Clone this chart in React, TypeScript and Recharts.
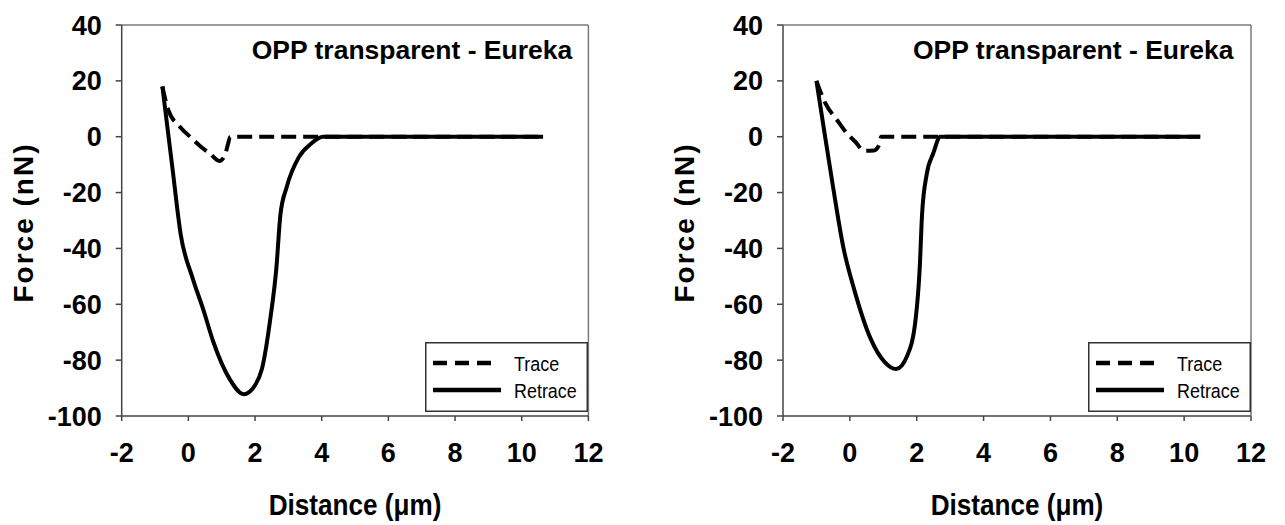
import React from 'react';
import { LineChart, Line, XAxis, YAxis, ReferenceLine, Legend, Label } from 'recharts';

const FONT = '"Liberation Sans", Arial, Helvetica, sans-serif';
const AXIS = '#444';
const FRAME = '#7a7a7a';

// Tick values
const xTicks = [-2, 0, 2, 4, 6, 8, 10, 12];
const yTicks = [-100, -80, -60, -40, -20, 0, 20, 40];

// Text
const panelTitle = 'OPP transparent - Eureka';
const xTitle = 'Distance (\u03bcm)';
const yTitle = 'Force (nN)';
const seriesNames = ['Trace', 'Retrace'];

// Left panel: distance (µm) and force (nN)
const leftTraceX = [-0.78, -0.6, -0.25, 0.05, 0.35, 0.65, 0.93, 1.1, 1.18, 1.26, 10.64];
const leftTraceF = [18, 9.5, 3.5, 0, -3.3, -6.1, -8.7, -6.5, -3, 0, 0];
const leftRetraceX = [-0.78, -0.48, -0.23, 0.13, 0.45, 0.75, 1.24, 1.66, 2.0, 2.21, 2.46, 2.64, 2.76, 2.95, 3.31, 3.68, 4.04, 10.64];
const leftRetraceF = [18, -11, -35, -50.7, -62, -73.5, -86.8, -92.2, -89, -83, -65, -47, -28, -18, -7.4, -2.5, 0, 0];

// Right panel: distance (µm) and force (nN)
const rightTraceX = [-1.0, -0.73, -0.38, -0.08, 0.17, 0.42, 0.72, 0.87, 0.94, 10.48];
const rightTraceF = [20, 11.9, 5.9, 1.1, -1.9, -5.0, -4.9, -3.1, 0, 0];
const rightRetraceX = [-1.0, -0.74, -0.5, -0.19, 0.12, 0.62, 1.05, 1.38, 1.72, 1.97, 2.09, 2.16, 2.3, 2.49, 2.71, 10.48];
const rightRetraceF = [20, 0, -18.2, -39.9, -54.3, -72.3, -80.8, -83.2, -78.3, -65.1, -47, -27.8, -13.4, -6.1, 0, 0];

const zip = (xs: number[], ys: number[]) => xs.map((x, i) => ({ x, y: ys[i] }));

const seriesStyle: Record<string, { dash?: string; legendDash?: string; sample: number }> = {
  Trace: { dash: '15 7', legendDash: '14 8', sample: 58 },
  Retrace: { dash: undefined, legendDash: undefined, sample: 68 },
};

const CHART_H = 525;
const TICK_FONT = 27;

const XTick = (props: any) => {
  const { x, y, payload } = props;
  return (
    <text x={x} y={y + 41} textAnchor="middle" fontFamily={FONT} fontWeight="bold" fontSize={TICK_FONT} fill="#000">
      {payload.value}
    </text>
  );
};

const YTick = (props: any) => {
  const { x, y, payload } = props;
  return (
    <text x={x} y={y + 9.5} textAnchor="end" fontFamily={FONT} fontWeight="bold" fontSize={TICK_FONT} fill="#000">
      {payload.value}
    </text>
  );
};

type PanelProps = {
  left: number;
  width: number;
  margin: { top: number; right: number; bottom: number; left: number };
  trace: { x: number; y: number }[];
  retrace: { x: number; y: number }[];
};

const Y_AXIS_W = 100;
const X_AXIS_H = 80;
const LEGEND_W = 163;
const LEGEND_H = 70;

function Panel({ left, width, margin, trace, retrace }: PanelProps) {
  const plotLeft = margin.left + Y_AXIS_W;
  const plotRight = width - margin.right;
  const plotTop = margin.top;
  const plotBottom = CHART_H - margin.bottom - X_AXIS_H;

  const renderLegend = (props: any) => {
    const items = [...(props.payload ?? [])].sort(
      (a: any, b: any) => seriesNames.indexOf(a.value) - seriesNames.indexOf(b.value)
    );
    return (
      <svg width={LEGEND_W} height={LEGEND_H} style={{ display: 'block' }}>
        <rect x={0.75} y={0.75} width={LEGEND_W - 1.5} height={LEGEND_H - 1.5} fill="#fff" stroke="#333" strokeWidth={1.5} />
        {items.map((it: any, i: number) => {
          const s = seriesStyle[it.value];
          const y = 21 + i * 27;
          return (
            <g key={it.value}>
              <line x1={8} x2={8 + s.sample} y1={y} y2={y} stroke="#000" strokeWidth={4.5} strokeDasharray={s.legendDash} />
              <text
                transform={`translate(89, ${y + 7.5}) scale(0.92, 1)`}
                fontFamily={FONT}
                fontSize={19.5}
                fill="#000"
              >
                {it.value}
              </text>
            </g>
          );
        })}
      </svg>
    );
  };

  const renderXTitle = () => (
    <text
      transform={`translate(${(plotLeft + plotRight) / 2}, ${plotBottom + 99}) scale(0.87, 1)`}
      textAnchor="middle"
      fontFamily={FONT}
      fontWeight="bold"
      fontSize={30}
      fill="#000"
    >
      {xTitle}
    </text>
  );

  const renderYTitle = () => (
    <text
      transform={`translate(${plotLeft - 88.7}, ${(plotTop + plotBottom) / 2 + 2}) rotate(-90)`}
      textAnchor="middle"
      fontFamily={FONT}
      fontWeight="bold"
      fontSize={28}
      letterSpacing={2}
      fill="#000"
    >
      {yTitle}
    </text>
  );

  const renderTitle = () => (
    <text
      x={plotLeft + 130}
      y={plotTop + 34}
      textAnchor="start"
      fontFamily={FONT}
      fontWeight="bold"
      fontSize={26.5}
      fill="#000"
    >
      {panelTitle}
    </text>
  );

  return (
    <div style={{ position: 'absolute', left, top: 0, width, height: CHART_H }}>
      <LineChart width={width} height={CHART_H} margin={margin}>
        <XAxis
          type="number"
          dataKey="x"
          domain={[-2, 12]}
          ticks={xTicks}
          interval={0}
          allowDataOverflow
          height={X_AXIS_H}
          axisLine={{ stroke: AXIS, strokeWidth: 1.5 }}
          tickLine={{ stroke: AXIS, strokeWidth: 1.5 }}
          tickSize={5}
          tickMargin={0}
          tick={<XTick />}
        >
          <Label content={renderXTitle} />
        </XAxis>
        <YAxis
          type="number"
          domain={[-100, 40]}
          ticks={yTicks}
          interval={0}
          allowDataOverflow
          width={Y_AXIS_W}
          axisLine={{ stroke: AXIS, strokeWidth: 1.5 }}
          tickLine={{ stroke: AXIS, strokeWidth: 1.5 }}
          tickSize={6}
          tickMargin={14}
          tick={<YTick />}
        >
          <Label content={renderYTitle} />
        </YAxis>
        <ReferenceLine y={40} stroke={FRAME} strokeWidth={1.5}>
          <Label content={renderTitle} />
        </ReferenceLine>
        <ReferenceLine x={12} stroke={FRAME} strokeWidth={1.5} />
        <Legend
          layout="vertical"
          align="center"
          verticalAlign="middle"
          width={LEGEND_W}
          height={LEGEND_H}
          wrapperStyle={{ left: plotRight - LEGEND_W, top: 342, width: LEGEND_W, height: LEGEND_H, margin: 0, padding: 0 }}
          content={renderLegend}
        />
        <Line
          data={trace}
          dataKey="y"
          name="Trace"
          type="monotone"
          stroke="#000"
          strokeWidth={4}
          strokeDasharray={seriesStyle.Trace.dash}
          strokeLinejoin="round"
          dot={false}
          activeDot={false}
          isAnimationActive={false}
        />
        <Line
          data={retrace}
          dataKey="y"
          name="Retrace"
          type="monotone"
          stroke="#000"
          strokeWidth={4}
          strokeLinejoin="round"
          dot={false}
          activeDot={false}
          isAnimationActive={false}
        />
      </LineChart>
    </div>
  );
}

export default function App() {
  return (
    <div
      style={{
        position: 'absolute',
        left: 0,
        top: 0,
        width: 1285,
        height: CHART_H,
        background: '#fff',
        fontFamily: FONT,
        overflow: 'hidden',
      }}
    >
      <Panel
        left={0}
        width={640}
        margin={{ top: 25, right: 51.6, bottom: 29, left: 21.7 }}
        trace={zip(leftTraceX, leftTraceF)}
        retrace={zip(leftRetraceX, leftRetraceF)}
      />
      <Panel
        left={640}
        width={645}
        margin={{ top: 25, right: 34, bottom: 29, left: 43 }}
        trace={zip(rightTraceX, rightTraceF)}
        retrace={zip(rightRetraceX, rightRetraceF)}
      />
    </div>
  );
}
